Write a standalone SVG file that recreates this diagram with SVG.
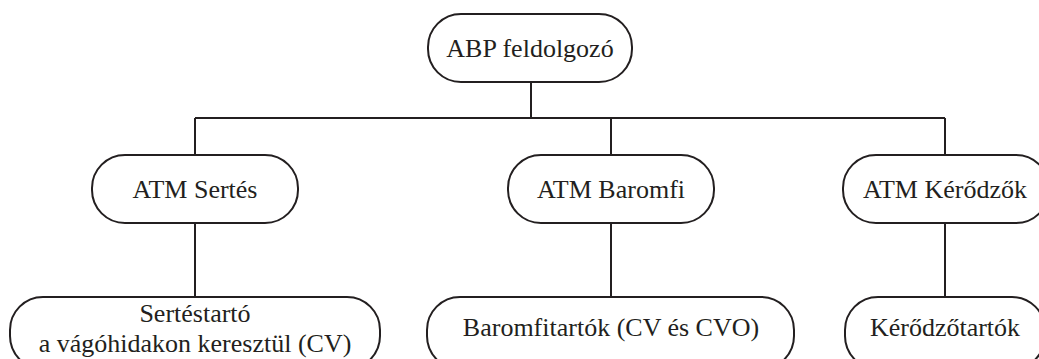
<svg xmlns="http://www.w3.org/2000/svg" width="1039" height="359" viewBox="0 0 1039 359">
  <style>
    .box { fill: #ffffff; stroke: #231f20; stroke-width: 2; }
    .lbl { font-family: "Liberation Serif", "Times New Roman", serif; font-size: 26px; fill: #231f20; text-anchor: middle; }
    .wire { fill: none; stroke: #231f20; stroke-width: 2; }
  </style>
  <rect width="1039" height="359" fill="#ffffff"/>

  <!-- tree connectors -->
  <g id="connectors">
    <path class="wire" d="M531 82 V118"/>
    <path class="wire" d="M195 118 H945"/>
    <path class="wire" d="M195 118 V155"/>
    <path class="wire" d="M611 118 V155"/>
    <path class="wire" d="M945 118 V155"/>
    <path class="wire" d="M195 223 V297"/>
    <path class="wire" d="M611 223 V297"/>
    <path class="wire" d="M945 223 V297"/>
  </g>

  <g id="abp">
    <rect class="box" x="428" y="14" width="204" height="68" rx="33" ry="33"/>
    <text class="lbl" x="530" y="57">ABP feldolgozó</text>
  </g>

  <g id="atm-sertes">
    <rect class="box" x="92" y="155" width="206" height="68" rx="33" ry="33"/>
    <text class="lbl" x="195" y="198">ATM Sertés</text>
  </g>

  <g id="atm-baromfi">
    <rect class="box" x="508" y="155" width="206" height="68" rx="33" ry="33"/>
    <text class="lbl" x="611" y="198">ATM Baromfi</text>
  </g>

  <g id="atm-kerodzok">
    <rect class="box" x="843" y="155" width="206" height="68" rx="33" ry="33"/>
    <text class="lbl" x="945" y="198">ATM Kérődzők</text>
  </g>

  <g id="sertestarto">
    <rect class="box" x="10" y="297" width="370" height="72" rx="33" ry="33"/>
    <text class="lbl" x="195" y="322">Sertéstartó</text>
    <text class="lbl" x="195" y="352">a vágóhidakon keresztül (CV)</text>
  </g>

  <g id="baromfitartok">
    <rect class="box" x="427" y="297" width="367" height="72" rx="33" ry="33"/>
    <text class="lbl" x="611" y="336">Baromfitartók (CV és CVO)</text>
  </g>

  <g id="kerodzotartok">
    <rect class="box" x="845" y="297" width="200" height="72" rx="33" ry="33"/>
    <text class="lbl" x="945" y="336">Kérődzőtartók</text>
  </g>
</svg>
